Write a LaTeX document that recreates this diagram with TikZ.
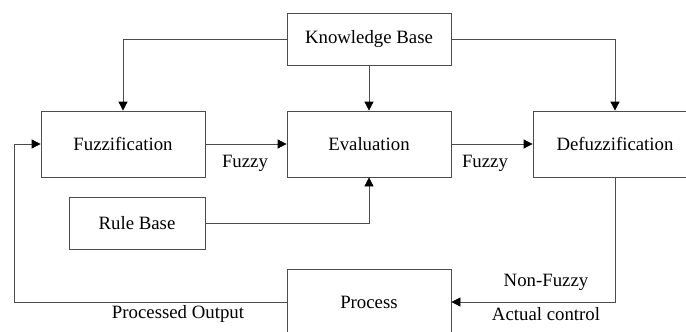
\documentclass[tikz,border=0pt]{standalone}
\usepackage{fontspec}
\setmainfont{Liberation Serif}
\usetikzlibrary{arrows.meta}
\begin{document}
\begin{tikzpicture}[x=1pt,y=-1pt,
  blk/.style={draw=black!70,line width=0.8pt,minimum width=164pt,minimum height=66pt,inner sep=0pt,font=\fontsize{18.8}{22}\selectfont},
  lbl/.style={inner sep=0pt,font=\fontsize{18.8}{22}\selectfont},
  conn/.style={draw=black!70,line width=0.8pt,-{Triangle[length=9pt,width=9pt,fill=black,color=black]}},
  plain/.style={draw=black!70,line width=0.8pt}]
\clip (0,0) rectangle (686,332);
\fill[white] (0,0) rectangle (686,332);
\node[blk,minimum height=52pt] (kb) at (369,39) {Knowledge Base};
\node[blk] (fuzz) at (123,144) {Fuzzification};
\node[blk] (eval) at (369,144) {Evaluation};
\node[blk] (defuzz) at (615,144) {Defuzzification};
\node[blk,minimum width=136pt,minimum height=52pt] (rule) at (137,223) {Rule Base};
\node[blk] (proc) at (369,302) {Process};
\coordinate (loop) at (14,302);
\draw[conn] (kb.west) -| (fuzz.north);
\draw[conn] (kb.east) -| (defuzz.north);
\draw[conn] (kb.south) -- (eval.north);
\draw[conn] (fuzz.east) -- (eval.west);
\draw[conn] (eval.east) -- (defuzz.west);
\draw[conn] (rule.east) -| (eval.south);
\draw[conn] (defuzz.south) |- (proc.east);
\draw[plain] (proc.west) -- (loop);
\draw[conn] (loop) |- (fuzz.west);
\node[lbl] (f1) at (245,163) {Fuzzy};
\node[lbl] (f2) at (485,163) {Fuzzy};
\node[lbl] (nf) at (546,282) {Non-Fuzzy};
\node[lbl] (ac) at (546,314) {Actual control};
\node[lbl] (po) at (178,314) {Processed Output};
\end{tikzpicture}
\end{document}
